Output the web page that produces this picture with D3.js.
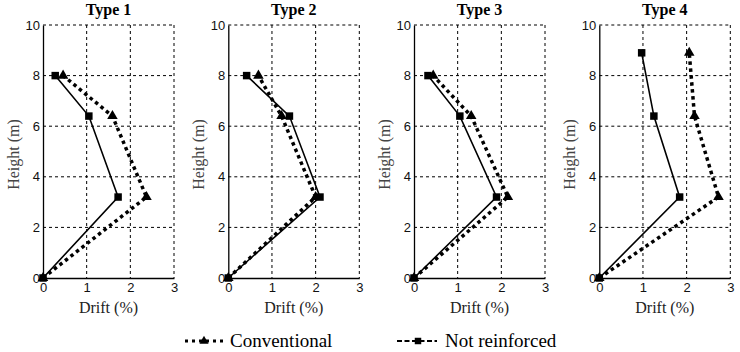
<!DOCTYPE html>
<html><head><meta charset="utf-8">
<script src="https://cdn.jsdelivr.net/npm/d3@7"></script>
<style>body{margin:0;background:#fff}svg{display:block}</style>
</head><body>
<svg id="c" width="740" height="352"></svg>
<script>
const panels = ["Type 1", "Type 2", "Type 3", "Type 4"];
const seriesNames = ["Conventional", "Not reinforced"];
// Each panel: heights and drifts
const conventionalHeight = [[0, 3.2, 6.4, 8], [0, 3.2, 6.4, 8], [0, 3.2, 6.4, 8], [0, 3.2, 6.4, 8.9]];
const conventionalDrift = [[0, 2.37, 1.59, 0.46], [0, 2.0, 1.22, 0.69], [0, 2.15, 1.31, 0.44], [0, 2.73, 2.18, 2.06]];
const notReinforcedHeight = [[0, 3.2, 6.4, 8], [0, 3.2, 6.4, 8], [0, 3.2, 6.4, 8], [0, 3.2, 6.4, 8.9]];
const notReinforcedDrift = [[0, 1.72, 1.05, 0.28], [0, 2.1, 1.4, 0.42], [0, 1.89, 1.05, 0.32], [0, 1.84, 1.25, 0.97]];
const xTicks = [0, 1, 2, 3];
const yTicks = [0, 2, 4, 6, 8, 10];

(function () {
const svg = d3.select("#c");
const W = 131, pTop = 25, pBottom = 278;
const lefts = [43, 228.3, 414, 599.3];
const serif = "'Liberation Serif', 'Times New Roman', serif";
const sans = "'Liberation Sans', Arial, sans-serif";

panels.forEach((name, i) => {
  const g = svg.append("g").attr("transform", `translate(${lefts[i]},0)`);
  const x = d3.scaleLinear().domain([0, 3]).range([0, W]);
  const y = d3.scaleLinear().domain([0, 10]).range([pBottom, pTop]);
  // grid
  g.selectAll(".gx").data(xTicks.slice(1)).join("line")
    .attr("x1", d => x(d)).attr("x2", d => x(d)).attr("y1", pTop).attr("y2", pBottom)
    .attr("stroke", "#000").attr("stroke-width", 1).attr("stroke-dasharray", "3,3");
  g.selectAll(".gy").data(yTicks.slice(1)).join("line")
    .attr("x1", 0).attr("x2", W).attr("y1", d => y(d)).attr("y2", d => y(d))
    .attr("stroke", "#000").attr("stroke-width", 1).attr("stroke-dasharray", "3,3");
  // axes
  const ax = g.append("g").attr("transform", `translate(0,${pBottom})`)
    .call(d3.axisBottom(x).tickValues(xTicks).tickSize(0).tickPadding(5).tickFormat(d3.format("d")));
  const ay = g.append("g")
    .call(d3.axisLeft(y).tickValues(yTicks).tickSize(0).tickPadding(3).tickFormat(d3.format("d")));
  [ax, ay].forEach(a => {
    a.select(".domain").attr("stroke", "#000").attr("stroke-width", 1.3);
    a.selectAll("text").attr("font-family", sans).attr("font-size", 13).attr("fill", "#111");
  });
  // titles
  g.append("text").attr("x", W / 2).attr("y", 15).attr("text-anchor", "middle")
    .attr("font-family", serif).attr("font-weight", "bold").attr("font-size", 16).text(name);
  g.append("text").attr("x", W / 2).attr("y", 313).attr("text-anchor", "middle")
    .attr("font-family", serif).attr("font-size", 16).attr("fill", "#222").text("Drift (%)");
  g.append("text").attr("transform", `translate(-24,${(pTop + pBottom) / 2 + 3}) rotate(-90)`)
    .attr("text-anchor", "middle").attr("font-family", serif).attr("font-size", 16).attr("fill", "#444")
    .text("Height (m)");

  const line = d3.line().x(d => x(d[0])).y(d => y(d[1]));
  const conv = conventionalDrift[i].map((v, k) => [v, conventionalHeight[i][k]]);
  const nr = notReinforcedDrift[i].map((v, k) => [v, notReinforcedHeight[i][k]]);
  g.append("path").datum(nr).attr("d", line).attr("fill", "none").attr("stroke", "#000").attr("stroke-width", 1.6);
  g.append("path").datum(conv).attr("d", line).attr("fill", "none").attr("stroke", "#000")
    .attr("stroke-width", 3.5).attr("stroke-dasharray", "3.5,3.5");
  const tri = d3.symbol().type(d3.symbolTriangle).size(48);
  const sq = d3.symbol().type(d3.symbolSquare).size(56);
  g.selectAll(".t").data(conv).join("path").attr("d", tri)
    .attr("transform", d => `translate(${x(d[0])},${y(d[1])})`).attr("fill", "#000");
  g.selectAll(".s").data(nr).join("path").attr("d", sq)
    .attr("transform", d => `translate(${x(d[0])},${y(d[1])})`).attr("fill", "#000");
});

// legend
const lg = svg.append("g");
const ly = 341;
lg.append("line").attr("x1", 185).attr("x2", 223).attr("y1", ly).attr("y2", ly)
  .attr("stroke", "#000").attr("stroke-width", 3).attr("stroke-dasharray", "3,4");
lg.append("path").attr("d", d3.symbol().type(d3.symbolTriangle).size(36))
  .attr("transform", `translate(204,${ly})`).attr("fill", "#000");
lg.append("text").attr("x", 230).attr("y", ly + 6).attr("font-family", serif).attr("font-size", 19)
  .text(seriesNames[0]);
lg.append("line").attr("x1", 397).attr("x2", 437).attr("y1", ly).attr("y2", ly)
  .attr("stroke", "#000").attr("stroke-width", 2).attr("stroke-dasharray", "5,2.5");
lg.append("path").attr("d", d3.symbol().type(d3.symbolSquare).size(42))
  .attr("transform", `translate(418,${ly})`).attr("fill", "#000");
lg.append("text").attr("x", 445).attr("y", ly + 6).attr("font-family", serif).attr("font-size", 19)
  .text(seriesNames[1]);
})();
</script>
</body></html>
